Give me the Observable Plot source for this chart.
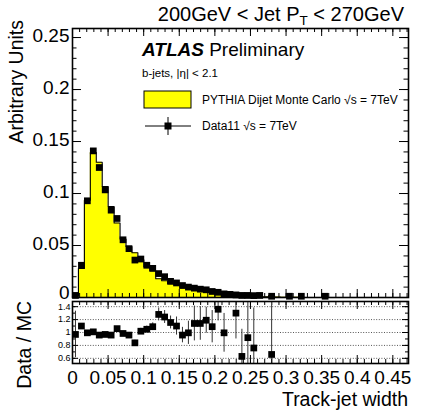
<!DOCTYPE html>
<html><head><meta charset="utf-8">
<script src="https://cdn.jsdelivr.net/npm/d3@7"></script>
<script src="https://cdn.jsdelivr.net/npm/@observablehq/plot@0.6"></script>
<style>
body{margin:0;background:#fff;}
#chart{position:relative;width:424px;height:413px;overflow:hidden;background:#fff;font-family:"Liberation Sans",Arial,Helvetica,sans-serif;}
#chart svg{position:absolute;left:0;overflow:visible;}
</style></head><body><div id="chart"></div>
<script>
// ---- data ----
const binWidth = 0.00835;
const xMax = 0.472;
const mcBins   = [0,1,2,3,4,5,6,7,8,9,10,11,12,13,14,15,16,17,18,19,20,21,22,23,24,25,26,27,28,29,30,31,32,33,34,35,36,37,38];
const mcValues = [0.002,0.028,0.0935,0.1395,0.130,0.1067,0.0875,0.0717,0.0563,0.049,0.043,0.0363,0.0295,0.0257,0.018,0.0161,0.0134,0.0127,0.012,0.010,0.0079,0.0070,0.0062,0.0053,0.0037,0.0035,0.0014,0.0019,0.0032,0.0022,0.0024,0.0008,0.0006,0.0018,0.0004,0.0003,0.0003,0.0002,0.0002];
const dataBins   = [0,1,2,3,4,5,6,7,8,9,10,11,12,13,14,15,16,17,18,19,20,21,22,23,24,25,26,27,28,29,30,31,33,36,38,42];
const dataValues = [0.002,0.031,0.093,0.141,0.125,0.1035,0.084,0.076,0.0555,0.047,0.036,0.037,0.031,0.028,0.023,0.020,0.0155,0.014,0.0115,0.010,0.009,0.008,0.0074,0.0058,0.005,0.0035,0.003,0.0025,0.002,0.002,0.0018,0.002,0.0012,0.0012,0.0012,0.0012];
const ratioBins   = [0,1,2,3,4,5,6,7,8,9,10,11,12,13,14,15,16,17,18,19,20,21,22,23,24,25,27,28,29,30,33];
const ratioValues = [0.97,1.10,0.995,1.01,0.96,0.97,0.96,1.06,0.985,0.96,0.84,1.02,1.05,1.09,1.28,1.24,1.155,1.10,0.96,0.995,1.14,1.14,1.19,1.09,1.36,0.995,1.30,0.63,0.92,0.76,0.66];
const ratioErrors = [0.36,0.03,0.02,0.015,0.015,0.02,0.02,0.025,0.03,0.035,0.04,0.045,0.05,0.06,0.1,0.1,0.1,0.14,0.12,0.18,0.27,0.26,0.2,0.25,0.18,0.3,0.4,0.42,0.7,0.62,0.76];
const xTickLabels = [0,0.05,0.1,0.15,0.2,0.25,0.3,0.35,0.4,0.45];
const yTickLabels = [0,0.05,0.1,0.15,0.2,0.25];
const ratioTickLabels = [0.6,0.8,1,1.2,1.4];

// ---- tables built from the arrays ----
const stepPts = [{x:0,y:0}]
  .concat(mcBins.map((b,i)=>({x:b*binWidth, y:mcValues[i]})))
  .concat([{x:(mcBins[mcBins.length-1]+1)*binWidth, y:0}]);
const dataPts = dataBins.map((b,i)=>({x:(b+0.5)*binWidth, y:dataValues[i]}));
const ratioPts = ratioBins.map((b,i)=>({x:(b+0.5)*binWidth, y:ratioValues[i], lo:ratioValues[i]-ratioErrors[i], hi:ratioValues[i]+ratioErrors[i]}));

const xMinor = d3.range(0, 0.4705, 0.01);
const yMinor = d3.range(0, 0.2585, 0.01);
const rMinor = d3.range(0.6, 1.45, 0.1);
const FONT = '"Liberation Sans",Arial,Helvetica,sans-serif';

const mainW = 424, mainH = 300, mL = 72, mR = 16, mT = 28, mB = 3;
const pH = mainH - mT - mB, pW = mainW - mL - mR;
const fmt = d => String(d);

const main = Plot.plot({
  width: mainW, height: mainH,
  marginLeft: mL, marginRight: mR, marginTop: mT, marginBottom: mB,
  x: {domain: [0, xMax], axis: null},
  y: {domain: [0, 0.2587], axis: null},
  style: {fontFamily: FONT, background: "transparent", color: "#000"},
  marks: [
    Plot.areaY(stepPts, {x: "x", y: "y", curve: "step-after", fill: "#ffff00"}),
    Plot.lineY(stepPts, {x: "x", y: "y", curve: "step-after", stroke: "#000", strokeWidth: 1.1}),
    Plot.dot(dataPts, {x: "x", y: "y", symbol: "square", r: 3.8, fill: "#000", stroke: "none"}),
    // inward ticks, all four sides
    Plot.tickX(xTickLabels, {x: d => d, insetTop: pH - 8, stroke: "#000", strokeWidth: 1}),
    Plot.tickX(xMinor, {x: d => d, insetTop: pH - 4, stroke: "#000", strokeWidth: 1}),
    Plot.tickX(xTickLabels, {x: d => d, insetBottom: pH - 8, stroke: "#000", strokeWidth: 1}),
    Plot.tickX(xMinor, {x: d => d, insetBottom: pH - 4, stroke: "#000", strokeWidth: 1}),
    Plot.tickY(yTickLabels, {y: d => d, insetRight: pW - 9, stroke: "#000", strokeWidth: 1}),
    Plot.tickY(yMinor, {y: d => d, insetRight: pW - 4.5, stroke: "#000", strokeWidth: 1}),
    Plot.tickY(yTickLabels, {y: d => d, insetLeft: pW - 9, stroke: "#000", strokeWidth: 1}),
    Plot.tickY(yMinor, {y: d => d, insetLeft: pW - 4.5, stroke: "#000", strokeWidth: 1}),
    Plot.axisY({anchor: "left", ticks: yTickLabels.filter(d => d > 0), tickSize: 0, tickPadding: 3, fontSize: 19, dy: -1.5, tickFormat: fmt, label: null}),
    Plot.axisY({anchor: "left", ticks: [yTickLabels[0]], tickSize: 0, tickPadding: 3, fontSize: 19, dy: -5, tickFormat: fmt, label: null}),
    Plot.frame({stroke: "#000", strokeWidth: 1.6})
  ]
});
main.style.top = "0px";

const rW = 424, rH = 116, rT = 4, rB = 50;
const rpH = rH - rT - rB;
const ratio = Plot.plot({
  width: rW, height: rH,
  marginLeft: mL, marginRight: mR, marginTop: rT, marginBottom: rB,
  x: {domain: [0, xMax], axis: null},
  y: {domain: [0.52, 1.48], axis: null},
  style: {fontFamily: FONT, background: "transparent", color: "#000"},
  marks: [
    Plot.ruleY(ratioTickLabels, {y: d => d, stroke: "#444", strokeWidth: 0.9, strokeDasharray: "1,1.6"}),
    Plot.ruleX(ratioPts, {x: "x", y1: "lo", y2: "hi", stroke: "#333", strokeWidth: 1, clip: true}),
    Plot.dot(ratioPts, {x: "x", y: "y", symbol: "square", r: 3.8, fill: "#000", stroke: "none", clip: true}),
    Plot.tickX(xTickLabels, {x: d => d, insetTop: rpH - 8, stroke: "#000", strokeWidth: 1}),
    Plot.tickX(xMinor, {x: d => d, insetTop: rpH - 4, stroke: "#000", strokeWidth: 1}),
    Plot.tickX(xTickLabels, {x: d => d, insetBottom: rpH - 8, stroke: "#000", strokeWidth: 1}),
    Plot.tickX(xMinor, {x: d => d, insetBottom: rpH - 4, stroke: "#000", strokeWidth: 1}),
    Plot.tickY(ratioTickLabels, {y: d => d, insetRight: pW - 6, stroke: "#000", strokeWidth: 1}),
    Plot.tickY(rMinor, {y: d => d, insetRight: pW - 3, stroke: "#000", strokeWidth: 1}),
    Plot.tickY(ratioTickLabels, {y: d => d, insetLeft: pW - 6, stroke: "#000", strokeWidth: 1}),
    Plot.tickY(rMinor, {y: d => d, insetLeft: pW - 3, stroke: "#000", strokeWidth: 1}),
    Plot.axisY({anchor: "left", ticks: ratioTickLabels, tickSize: 0, tickPadding: 2, fontSize: 9, tickFormat: fmt, label: null}),
    Plot.axisX({anchor: "bottom", ticks: xTickLabels, tickSize: 0, tickPadding: 7, fontSize: 19, tickFormat: fmt, label: null}),
    Plot.frame({stroke: "#000", strokeWidth: 1.6})
  ]
});
ratio.style.top = "297px";

const chart = document.getElementById("chart");
chart.appendChild(main);
chart.appendChild(ratio);

// ---- annotations ----
const s = d3.select(main);
const t = s.append("text").attr("x", 404).attr("y", 21).attr("text-anchor", "end")
  .attr("font-size", 20).attr("font-family", FONT).attr("fill", "#000");
t.append("tspan").text("200GeV < Jet P");
t.append("tspan").attr("font-size", 13.5).attr("dy", 4).text("T");
t.append("tspan").attr("dy", -4).text(" < 270GeV");

const a = s.append("text").attr("x", 142).attr("y", 56).attr("text-anchor", "start").attr("font-size", 19).attr("font-family", FONT).attr("fill", "#000");
a.append("tspan").attr("font-weight", "bold").attr("font-style", "italic").text("ATLAS");
a.append("tspan").text(" Preliminary");

s.append("text").attr("x", 142).attr("y", 77).attr("text-anchor", "start").attr("font-size", 11.5).attr("font-family", FONT).text("b-jets, |η| < 2.1");

s.append("rect").attr("x", 144).attr("y", 91).attr("width", 47).attr("height", 17)
  .attr("fill", "#ffff00").attr("stroke", "#000").attr("stroke-width", 1);
s.append("text").attr("x", 202).attr("y", 104).attr("text-anchor", "start").attr("font-size", 12).attr("font-family", FONT).text("PYTHIA Dijet Monte Carlo √s = 7TeV");
s.append("line").attr("x1", 145).attr("x2", 191).attr("y1", 126).attr("y2", 126).attr("stroke", "#000").attr("stroke-width", 1);
s.append("line").attr("x1", 168).attr("x2", 168).attr("y1", 117).attr("y2", 135).attr("stroke", "#000").attr("stroke-width", 1);
s.append("rect").attr("x", 164.5).attr("y", 122.5).attr("width", 7).attr("height", 7).attr("fill", "#000");
s.append("text").attr("x", 202).attr("y", 130).attr("text-anchor", "start").attr("font-size", 12).attr("font-family", FONT).text("Data11 √s = 7TeV");

s.append("text").attr("transform", "translate(23,20) rotate(-90)").attr("text-anchor", "end")
  .attr("font-size", 19.5).attr("font-family", FONT).text("Arbitrary Units");

const r = d3.select(ratio);
r.append("text").attr("transform", "translate(31,4) rotate(-90)").attr("text-anchor", "end")
  .attr("font-size", 19.5).attr("font-family", FONT).text("Data / MC");
r.append("text").attr("x", 408).attr("y", 109).attr("text-anchor", "end")
  .attr("font-size", 19.5).attr("font-family", FONT).text("Track-jet width");
</script></body></html>
